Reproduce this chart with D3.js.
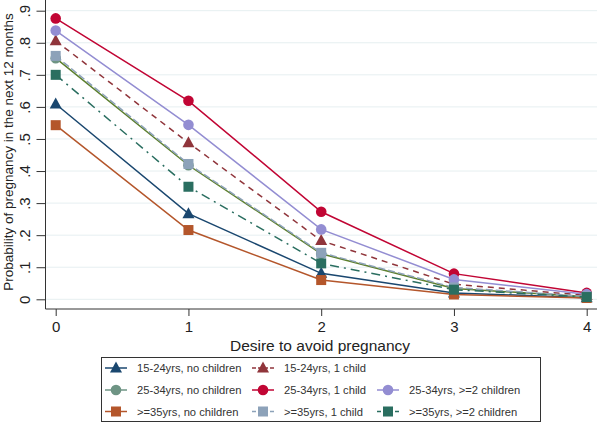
<!DOCTYPE html>
<html><head><meta charset="utf-8">
<script src="https://cdn.jsdelivr.net/npm/d3@7"></script>
<style>body{margin:0;background:#fff}svg{display:block}</style>
</head><body>
<script>
const xValues = [0, 1, 2, 3, 4];
const yTicks = [0, 0.1, 0.2, 0.3, 0.4, 0.5, 0.6, 0.7, 0.8, 0.9];
const yTickLabels = ["0", ".1", ".2", ".3", ".4", ".5", ".6", ".7", ".8", ".9"];
const seriesNames = ["15-24yrs, no children", "15-24yrs, 1 child", "25-34yrs, no children", "25-34yrs, 1 child", "25-34yrs, >=2 children", ">=35yrs, no children", ">=35yrs, 1 child", ">=35yrs, >=2 children"];
const v1524none = [0.609, 0.267, 0.081, 0.020, 0.005];
const v15241 = [0.806, 0.488, 0.183, 0.047, 0.012];
const v2534none = [0.752, 0.418, 0.142, 0.034, 0.008];
const v25341 = [0.876, 0.619, 0.273, 0.080, 0.020];
const v25342 = [0.838, 0.544, 0.218, 0.062, 0.016];
const v35none = [0.543, 0.216, 0.060, 0.015, 0.004];
const v351 = [0.759, 0.422, 0.145, 0.037, 0.009];
const v352 = [0.700, 0.351, 0.112, 0.030, 0.007];
const seriesValues = [v1524none, v15241, v2534none, v25341, v25342, v35none, v351, v352];
const markerColors = ["#1a476f", "#90353b", "#6e9484", "#c10534", "#938dd2", "#b4562b", "#8da2b9", "#2a6e60"];
const lineColors = ["#1a476f", "#90353b", "#5c7f2c", "#c10534", "#938dd2", "#b4562b", "#8da2b9", "#2a6e60"];
const legendLineColors = ["#1a476f", "#90353b", "#6e9484", "#c10534", "#938dd2", "#b4562b", "#8da2b9", "#2a6e60"];
const symbols = ["triangle", "triangle", "circle", "circle", "circle", "square", "square", "square"];
const dashes = [null, "6,5", null, null, null, null, "7,3", "9,5,2,5"];
const legendPos = [[0,0],[1,0],[0,1],[1,1],[2,1],[0,2],[1,2],[2,2]];

const W = 597, H = 423;
const svg = d3.select("body").append("svg").attr("width", W).attr("height", H);
const font = "'Liberation Sans', Arial, sans-serif";

const x = d3.scaleLinear().domain([0, 4]).range([55.7, 586.7]);
const y = d3.scaleLinear().domain([0, 0.9]).range([299.3, 10.7]);

// gridlines
svg.append("g").selectAll("line").data(yTicks).join("line")
  .attr("x1", 46).attr("x2", W).attr("y1", d => y(d)).attr("y2", d => y(d))
  .attr("stroke", "#e6eff1").attr("stroke-width", 1);

// y axis
const yAxis = svg.append("g").attr("transform", "translate(45.5,0)")
  .call(d3.axisLeft(y).tickValues(yTicks).tickFormat((d, i) => yTickLabels[i]).tickSize(9).tickSizeOuter(0));
yAxis.select(".domain").attr("d", "M0,0V309").attr("stroke", "#333");
yAxis.selectAll(".tick line").attr("stroke", "#333");
yAxis.selectAll(".tick text").attr("font-family", font).attr("font-size", 15).attr("fill", "#222")
  .attr("transform", "rotate(-90)").attr("x", 0).attr("y", -16).attr("dy", "0").attr("text-anchor", "middle");

// x axis
const xAxis = svg.append("g").attr("transform", "translate(0,309)")
  .call(d3.axisBottom(x).tickValues(xValues).tickFormat(d3.format("d")).tickSize(7).tickSizeOuter(0));
xAxis.select(".domain").attr("d", "M45.5,0H" + W).attr("stroke", "#333");
xAxis.selectAll(".tick line").attr("stroke", "#333");
xAxis.selectAll(".tick text").attr("font-family", font).attr("font-size", 15).attr("fill", "#222").attr("y", 12);

// titles
svg.append("text").attr("x", 320).attr("y", 351).attr("text-anchor", "middle")
  .attr("font-family", font).attr("font-size", 15.5).attr("fill", "#222").text("Desire to avoid pregnancy");
svg.append("text").attr("transform", "translate(13,152) rotate(-90)").attr("text-anchor", "middle")
  .attr("font-family", font).attr("font-size", 13.5).attr("fill", "#222").text("Probability of pregnancy in the next 12 months");

function drawMarker(g, sym, cx, cy, color) {
  if (sym === "circle") {
    g.append("circle").attr("cx", cx).attr("cy", cy).attr("r", 5.3).attr("fill", color);
  } else if (sym === "square") {
    g.append("rect").attr("x", cx - 5).attr("y", cy - 5).attr("width", 10).attr("height", 10).attr("fill", color);
  } else {
    g.append("path").attr("d", `M${cx},${cy-6.5}L${cx+6},${cy+4.5}L${cx-6},${cy+4.5}Z`).attr("fill", color);
  }
}

const line = d3.line().x((d, i) => x(xValues[i])).y(d => y(d));
seriesValues.forEach((vals, s) => {
  const g = svg.append("g");
  g.append("path").attr("d", line(vals)).attr("fill", "none").attr("stroke", lineColors[s])
    .attr("stroke-width", 1.5).attr("stroke-dasharray", dashes[s]);
  vals.forEach((v, i) => drawMarker(g, symbols[s], x(xValues[i]), y(v), markerColors[s]));
});

// legend
svg.append("rect").attr("x", 101.5).attr("y", 357.5).attr("width", 439).attr("height", 64)
  .attr("fill", "#fff").attr("stroke", "#333").attr("stroke-width", 1);
const colX = [105, 252, 377];
const rowY = [368, 390, 411.5];
seriesNames.forEach((name, s) => {
  const [c, r] = legendPos[s];
  const g = svg.append("g");
  const lx = colX[c], ly = rowY[r];
  g.append("line").attr("x1", lx).attr("x2", lx + 22).attr("y1", ly).attr("y2", ly)
    .attr("stroke", legendLineColors[s]).attr("stroke-width", 1.5).attr("stroke-dasharray", dashes[s] ? "4,2" : null);
  drawMarker(g, symbols[s], lx + 11, ly, markerColors[s]);
  g.append("text").attr("x", lx + 32).attr("y", ly + 4).attr("font-family", font).attr("font-size", 11.2)
    .attr("fill", "#333").text(name);
});
</script>
</body></html>
